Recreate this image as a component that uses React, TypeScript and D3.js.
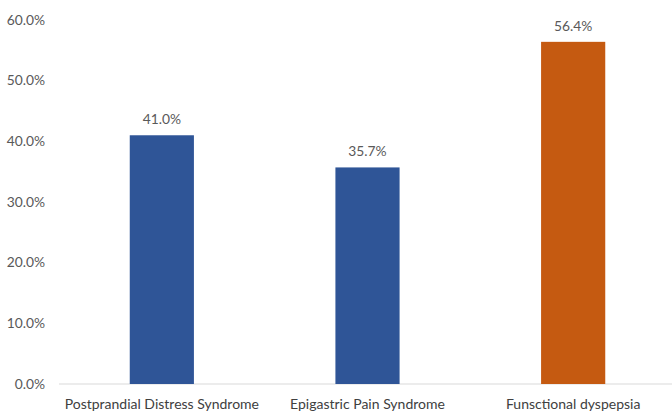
import React from "react";
import * as d3 from "d3";

const categories = ["Postprandial Distress Syndrome", "Epigastric Pain Syndrome", "Funsctional dyspepsia"];
const values = [0.41, 0.357, 0.564];
const barColors = ["#2F5597", "#2F5597", "#C55A11"];
const yTicks = [0, 0.1, 0.2, 0.3, 0.4, 0.5, 0.6];

export default function App() {
  const W = 672, H = 413;
  const x = d3.scaleBand().domain(categories).range([59, 676]).paddingInner(0.688).paddingOuter(0.344);
  const y = d3.scaleLinear().domain([0, 0.6]).range([384, 20]);
  const fmt = d3.format(".1%");
  const font = "Lato, 'Open Sans', 'Liberation Sans', sans-serif";
  return (
    <svg width={W} height={H} style={{ position: "absolute", left: 0, top: 0, background: "#fff" }} fontFamily={font}>
      {yTicks.map((t) => (
        <text key={t} x={45} y={y(t)} dy="0.35em" textAnchor="end" fontSize={13.8} fill="#595959">
          {fmt(t)}
        </text>
      ))}
      <line x1={59} x2={W} y1={y(0)} y2={y(0)} stroke="#D9D9D9" strokeWidth={1} />
      {categories.map((c, i) => (
        <g key={c}>
          <rect x={x(c)} y={y(values[i])} width={x.bandwidth()} height={y(0) - y(values[i])} fill={barColors[i]} />
          <text x={x(c)! + x.bandwidth() / 2} y={y(values[i]) - 11} textAnchor="middle" fontSize={13.8} fill="#595959">
            {fmt(values[i])}
          </text>
          <text x={x(c)! + x.bandwidth() / 2} y={409} textAnchor="middle" fontSize={14} fill="#404040">
            {c}
          </text>
        </g>
      ))}
    </svg>
  );
}
